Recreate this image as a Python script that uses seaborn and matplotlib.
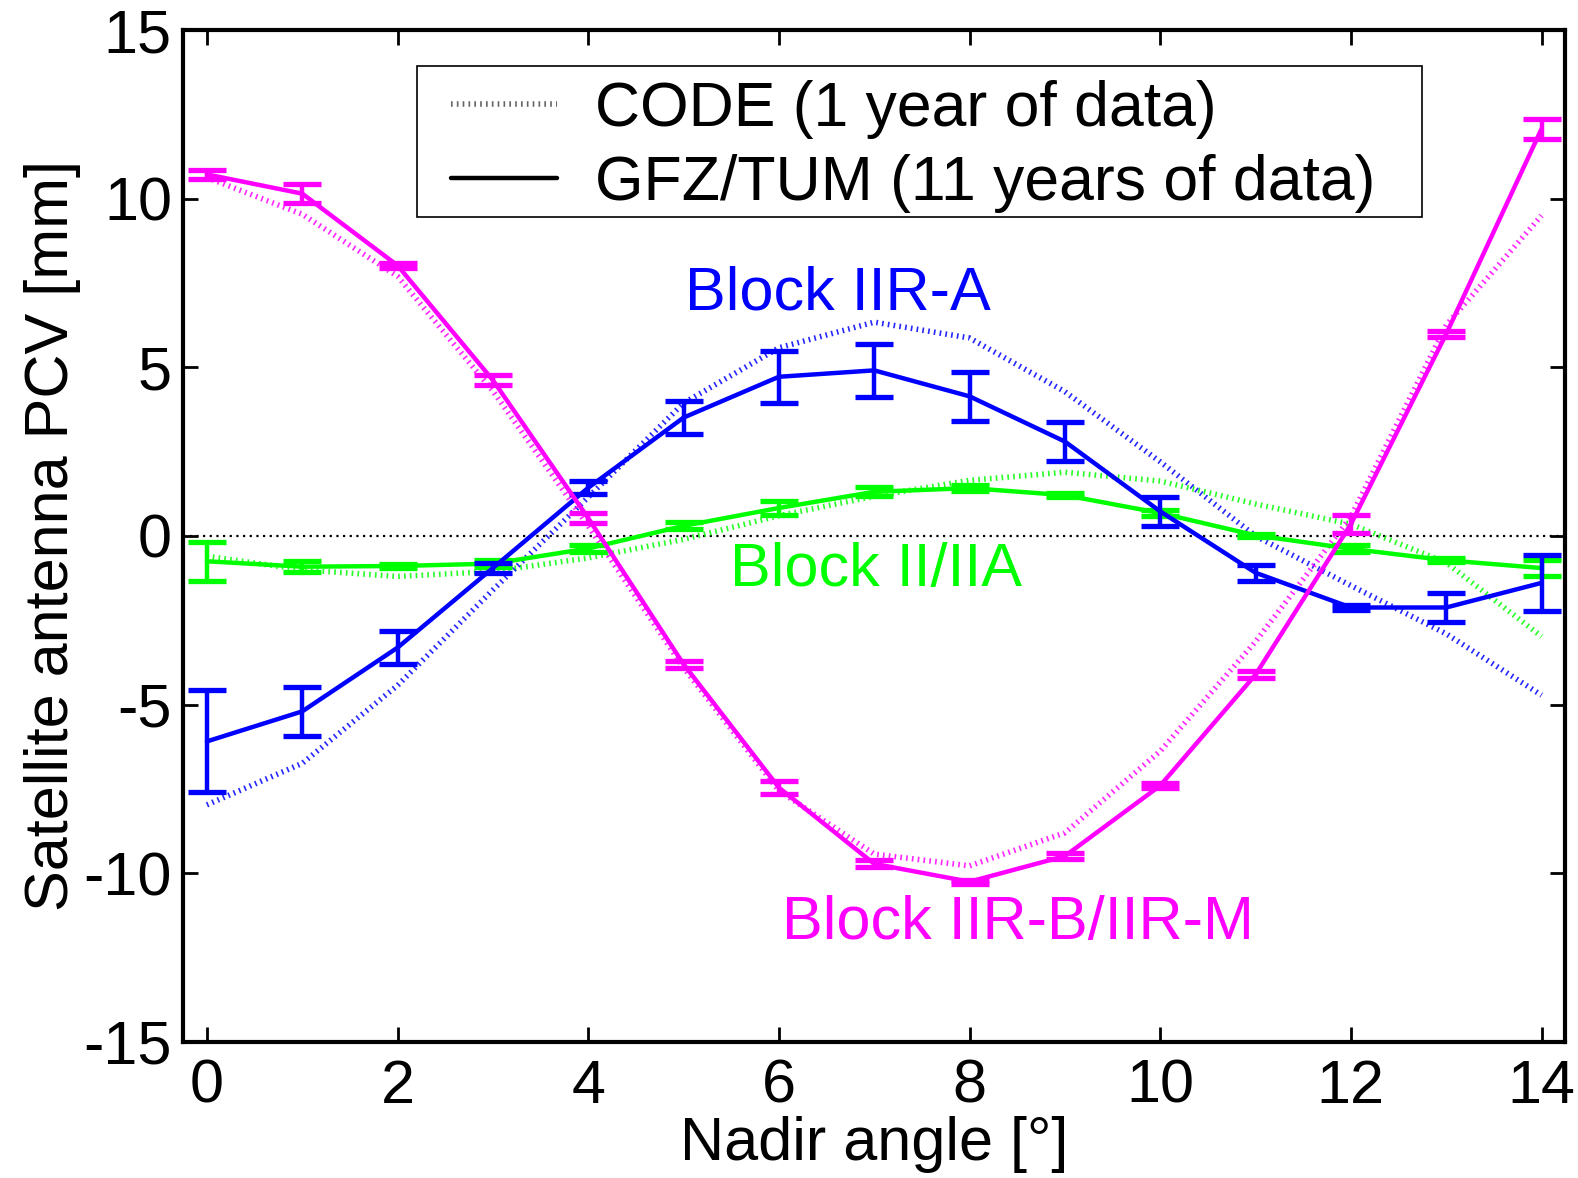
import numpy as np
import pandas as pd
import seaborn as sns
import matplotlib
matplotlib.use("Agg")
import matplotlib.pyplot as plt
from matplotlib.lines import Line2D
from matplotlib.patches import Rectangle

# Nadir angles [deg]
nadir = [0, 1, 2, 3, 4, 5, 6, 7, 8, 9, 10, 11, 12, 13, 14]

# GFZ/TUM estimates (11 years) with formal errors [mm]
gfz_iia = [-0.75, -0.91, -0.89, -0.82, -0.37, 0.30, 0.83, 1.31, 1.42, 1.21, 0.68, 0.02, -0.38, -0.72, -0.95]
gfz_iia_err = [0.57, 0.17, 0.06, 0.10, 0.10, 0.10, 0.20, 0.13, 0.08, 0.05, 0.10, 0.05, 0.10, 0.06, 0.25]
gfz_iira = [-6.09, -5.20, -3.31, -0.95, 1.43, 3.51, 4.72, 4.91, 4.14, 2.80, 0.73, -1.09, -2.12, -2.12, -1.39]
gfz_iira_err = [1.51, 0.72, 0.48, 0.15, 0.19, 0.49, 0.77, 0.79, 0.73, 0.57, 0.44, 0.24, 0.08, 0.42, 0.82]
gfz_iirb = [10.72, 10.15, 8.02, 4.62, 0.53, -3.80, -7.46, -9.72, -10.25, -9.49, -7.40, -4.11, 0.35, 5.99, 12.07]
gfz_iirb_err = [0.13, 0.29, 0.08, 0.14, 0.15, 0.10, 0.20, 0.10, 0.06, 0.08, 0.08, 0.10, 0.27, 0.10, 0.30]

# CODE estimates (1 year) [mm]
code_iia = [-0.60, -1.00, -1.20, -1.05, -0.65, -0.10, 0.60, 1.18, 1.65, 1.89, 1.63, 0.95, 0.35, -0.79, -2.98]
code_iira = [-7.97, -6.74, -4.43, -1.60, 1.15, 3.94, 5.58, 6.34, 5.87, 4.28, 2.20, 0.00, -1.47, -2.90, -4.72]
code_iirb = [10.63, 9.54, 7.70, 4.30, 0.30, -3.90, -7.55, -9.43, -9.78, -8.80, -6.38, -3.13, 0.57, 6.25, 9.50]

blocks = ["Block II/IIA", "Block IIR-A", "Block IIR-B/IIR-M"]
colors = {"Block II/IIA": "#00FF00", "Block IIR-A": "#0000FF", "Block IIR-B/IIR-M": "#FF00FF"}

gfz = pd.DataFrame({
    "nadir": nadir * 3,
    "pcv": gfz_iia + gfz_iira + gfz_iirb,
    "err": gfz_iia_err + gfz_iira_err + gfz_iirb_err,
    "block": np.repeat(blocks, len(nadir)),
})
code = pd.DataFrame({
    "nadir": nadir * 3,
    "pcv": code_iia + code_iira + code_iirb,
    "block": np.repeat(blocks, len(nadir)),
})

sns.set_theme(style="ticks")
plt.rcParams["font.family"] = ["Liberation Sans", "DejaVu Sans"]
plt.rcParams.update({
    "text.color": "black",
    "axes.labelcolor": "black",
    "xtick.color": "black",
    "ytick.color": "black",
    "axes.unicode_minus": False,
})

fig = plt.figure(figsize=(15.78, 11.78), dpi=100)
ax = fig.add_axes([0.116, 0.1155, 0.876, 0.859])

fs = 44
dotted = (0, (0.3, 0.75))

# zero reference line
ax.axhline(0, color="black", lw=1.6, ls=(0, (1, 2)), zorder=1)

# CODE curves (dotted)
for b in blocks:
    sub = code[code["block"] == b]
    sns.lineplot(data=sub, x="nadir", y="pcv", ax=ax, color=colors[b],
                 lw=4.0, linestyle=dotted, alpha=0.85, legend=False,
                 errorbar=None, zorder=2)

# GFZ/TUM curves (solid with error bars)
for b in blocks:
    sub = gfz[gfz["block"] == b]
    sns.lineplot(data=sub, x="nadir", y="pcv", ax=ax, color=colors[b],
                 lw=3.2, legend=False, errorbar=None, zorder=3)
    ax.errorbar(sub["nadir"], sub["pcv"], yerr=sub["err"], fmt="none",
                ecolor=colors[b], elinewidth=3.2, capsize=14, capthick=3.8,
                zorder=3)

# block labels
ax.text(6.62, 7.18, "Block IIR-A", color=colors["Block IIR-A"], fontsize=fs,
        ha="center", va="center")
ax.text(7.02, -1.03, "Block II/IIA", color=colors["Block II/IIA"], fontsize=fs,
        ha="center", va="center")
ax.text(8.51, -11.48, "Block IIR-B/IIR-M", color=colors["Block IIR-B/IIR-M"],
        fontsize=fs, ha="center", va="center")

ax.set_xlim(-0.25, 14.25)
ax.set_ylim(-15, 15)
ax.set_xticks(range(0, 15, 2))
ax.set_yticks(range(-15, 16, 5))
ax.set_xlabel("Nadir angle [°]", fontsize=fs, labelpad=0)
ax.set_ylabel("Satellite antenna PCV [mm]", fontsize=fs, labelpad=2)
ax.tick_params(axis="both", which="major", direction="in", length=11, width=2,
               labelsize=fs, top=True, right=True)
ax.tick_params(axis="x", pad=12)
ax.tick_params(axis="y", pad=8)
for s in ax.spines.values():
    s.set_linewidth(3)
    s.set_color("black")

# legend box drawn separately so its padding can differ per side
ax.add_patch(Rectangle((0.169, 0.815), 0.896 - 0.169, 0.964 - 0.815,
                       transform=ax.transAxes, facecolor="white",
                       edgecolor="black", lw=1.2, zorder=5))
handles = [
    Line2D([], [], color="black", lw=4.0, linestyle=dotted, alpha=0.6),
    Line2D([], [], color="black", lw=3.2),
]
leg = ax.legend(handles, ["CODE (1 year of data)", "GFZ/TUM (11 years of data)"],
                loc="upper left", bbox_to_anchor=(0.1938, 0.951), fontsize=45,
                frameon=False, handlelength=1.7, handletextpad=0.6,
                borderpad=0, labelspacing=0.24, borderaxespad=0)
leg.set_zorder(6)

fig.savefig("out.png", dpi=100)
